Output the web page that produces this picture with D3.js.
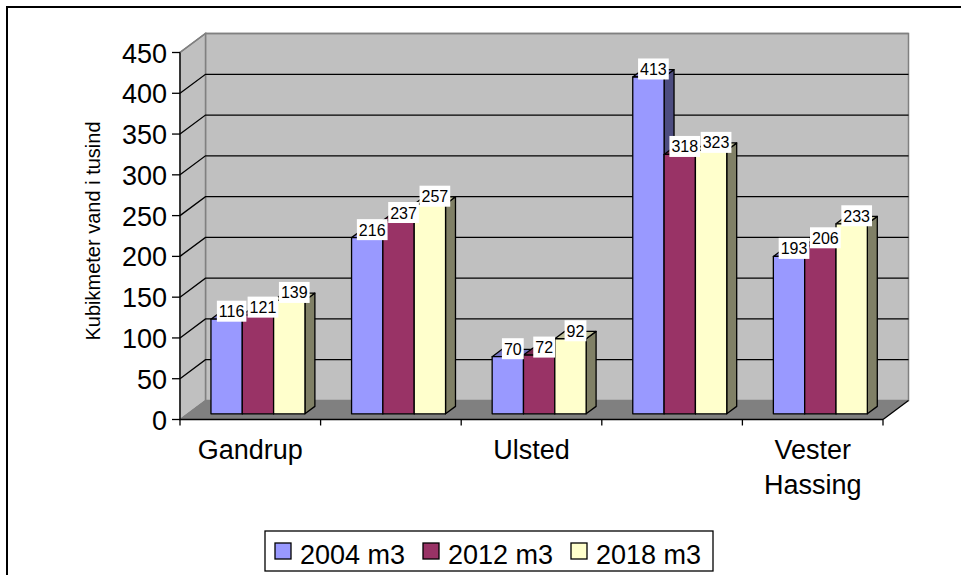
<!DOCTYPE html>
<html>
<head>
<meta charset="utf-8">
<script src="https://cdn.jsdelivr.net/npm/d3@7"></script>
<style>
  html, body { margin: 0; padding: 0; background: #fff; }
  svg { display: block; font-family: "Liberation Sans", Arial, sans-serif; }
</style>
</head>
<body>
<svg id="chart" width="961" height="575"></svg>
<script>
// ---- data ----
const categories = ["Gandrup", "", "Ulsted", "", "Vester Hassing"];
const seriesNames = ["2004 m3", "2012 m3", "2018 m3"];
const values2004 = [116, 216, 70, 413, 193];
const values2012 = [121, 237, 72, 318, 206];
const values2018 = [139, 257, 92, 323, 233];
const yTicks = [0, 50, 100, 150, 200, 250, 300, 350, 400, 450];
const yTitle = "Kubikmeter vand i tusind";

const seriesValues = [values2004, values2012, values2018];
const colors = ["#9999FF", "#993366", "#FFFFCC"];
const sideColors = ["#4D4D80", "#4D1A33", "#808066"];
const topColors = ["#7373BF", "#73264D", "#BFBF99"];

// ---- geometry ----
const svg = d3.select("#chart");
const X0 = 180, X1 = 883;
const DX = 25.5, DY = 19;          // full depth offset of the 3D box
const F0 = 0.30, F1 = 0.69;        // bar depth (fraction of box depth)

const x = d3.scaleBand().domain(d3.range(categories.length)).range([X0, X1]).paddingInner(0).paddingOuter(0);
const xi = d3.scaleBand().domain(d3.range(seriesNames.length)).range([0, x.bandwidth()]).paddingInner(0).paddingOuter(0.744);
const y = d3.scaleLinear().domain([0, 450]).range([419.5, 52.5]);

const P = (px, v, d) => [px + d * DX, y(v) - d * DY];
const poly = pts => "M" + pts.map(p => p.join(",")).join("L") + "Z";

// outer frame
svg.append("rect").attr("x", 7).attr("y", 7).attr("width", 980).attr("height", 600)
  .attr("fill", "#fff").attr("stroke", "#000").attr("stroke-width", 2);

const vMax = 450;
// back wall
svg.append("path").attr("d", poly([P(X0, 0, 1), P(X1, 0, 1), P(X1, vMax, 1), P(X0, vMax, 1)]))
  .attr("fill", "#C0C0C0").attr("stroke", "#808080").attr("stroke-width", 1.5);
// side wall
svg.append("path").attr("d", poly([P(X0, 0, 0), P(X0, 0, 1), P(X0, vMax, 1), P(X0, vMax, 0)]))
  .attr("fill", "#C0C0C0").attr("stroke", "#808080").attr("stroke-width", 1.5);

// gridlines
const grid = svg.append("g");
yTicks.filter(t => t > 0).forEach(t => {
  const a = P(X0, t, 0), b = P(X0, t, 1), c = P(X1, t, 1);
  grid.append("path").attr("d", `M${a}L${b}L${c}`).attr("fill", "none")
    .attr("stroke", t === vMax ? "#808080" : "#000").attr("stroke-width", t === vMax ? 1.5 : 1.3);
});

// floor
svg.append("path").attr("d", poly([P(X0, 0, 0), P(X1, 0, 0), P(X1, 0, 1), P(X0, 0, 1)]))
  .attr("fill", "#808080").attr("stroke", "none");
svg.append("path").attr("d", `M${P(X1, 0, 0)}L${P(X1, 0, 1)}`).attr("stroke", "#000").attr("stroke-width", 1.3);
svg.append("path").attr("d", `M${P(X0, 0, 0)}L${P(X0, 0, 1)}`).attr("stroke", "#808080").attr("stroke-width", 1);

// y axis
const yAxis = svg.append("g");
yAxis.append("line").attr("x1", X0).attr("x2", X0).attr("y1", y(vMax)).attr("y2", y(0))
  .attr("stroke", "#000").attr("stroke-width", 1.3);
yTicks.forEach(t => {
  yAxis.append("line").attr("x1", X0 - 8).attr("x2", X0).attr("y1", y(t)).attr("y2", y(t))
    .attr("stroke", "#000").attr("stroke-width", 1.3);
  yAxis.append("text").attr("x", X0 - 13).attr("y", y(t) + 10).attr("text-anchor", "end")
    .attr("font-size", 27).text(t);
});

// x axis
const xAxis = svg.append("g");
xAxis.append("line").attr("x1", X0).attr("x2", X1).attr("y1", y(0)).attr("y2", y(0))
  .attr("stroke", "#000").attr("stroke-width", 1.5);
d3.range(categories.length + 1).forEach(i => {
  const xx = i < categories.length ? x(i) : X1;
  xAxis.append("line").attr("x1", xx).attr("x2", xx).attr("y1", y(0)).attr("y2", y(0) + 6)
    .attr("stroke", "#000").attr("stroke-width", 1.3);
});
categories.forEach((c, i) => {
  if (!c) return;
  const cx = x(i) + x.bandwidth() / 2;
  const t = xAxis.append("text").attr("x", cx).attr("y", 459).attr("text-anchor", "middle").attr("font-size", 27);
  const words = c.split(" ");
  t.text(c);
  if (t.node().getComputedTextLength() > x.bandwidth() && words.length > 1) {
    t.text(null);
    words.forEach((w, k) => t.append("tspan").attr("x", cx).attr("dy", k === 0 ? 0 : 35).text(w));
  }
});

// y title
svg.append("text").attr("transform", "translate(100,231) rotate(-90)").attr("text-anchor", "middle")
  .attr("font-size", 20).text(yTitle);

// bars
const bars = svg.append("g");
const labels = [];
categories.forEach((c, i) => {
  seriesValues.forEach((vals, j) => {
    const v = vals[i];
    const xl = x(i) + xi(j), xr = xl + xi.bandwidth();
    const g = bars.append("g").attr("stroke", "#000").attr("stroke-width", 1.3).attr("stroke-linejoin", "round");
    g.append("path").attr("d", poly([P(xr, 0, F0), P(xr, 0, F1), P(xr, v, F1), P(xr, v, F0)])).attr("fill", sideColors[j]);
    g.append("path").attr("d", poly([P(xl, v, F0), P(xr, v, F0), P(xr, v, F1), P(xl, v, F1)])).attr("fill", topColors[j]);
    g.append("path").attr("d", poly([P(xl, 0, F0), P(xr, 0, F0), P(xr, v, F0), P(xl, v, F0)])).attr("fill", colors[j]);
    const top = P((xl + xr) / 2, v, F0);
    labels.push({ x: top[0] + 5, y: top[1] - 8, v });
  });
});

// data labels
const lg = svg.append("g");
labels.forEach(d => {
  const g = lg.append("g");
  const r = g.append("rect").attr("fill", "#fff");
  const t = g.append("text").attr("x", d.x).attr("y", d.y + 6).attr("text-anchor", "middle")
    .attr("font-size", 16).text(d.v);
  const w = t.node().getComputedTextLength() + 4;
  r.attr("x", d.x - w / 2).attr("y", d.y - 10.5).attr("width", w).attr("height", 21);
});

// legend
const leg = svg.append("g");
leg.append("rect").attr("x", 265).attr("y", 531).attr("width", 448).attr("height", 40)
  .attr("fill", "#fff").attr("stroke", "#000").attr("stroke-width", 1.3);
const legX = [275, 423, 571];
seriesNames.forEach((s, j) => {
  leg.append("rect").attr("x", legX[j]).attr("y", 543).attr("width", 16).attr("height", 16)
    .attr("fill", colors[j]).attr("stroke", "#000").attr("stroke-width", 1.3);
  leg.append("text").attr("x", legX[j] + 25).attr("y", 564).attr("font-size", 27).text(s);
});
</script>
</body>
</html>
